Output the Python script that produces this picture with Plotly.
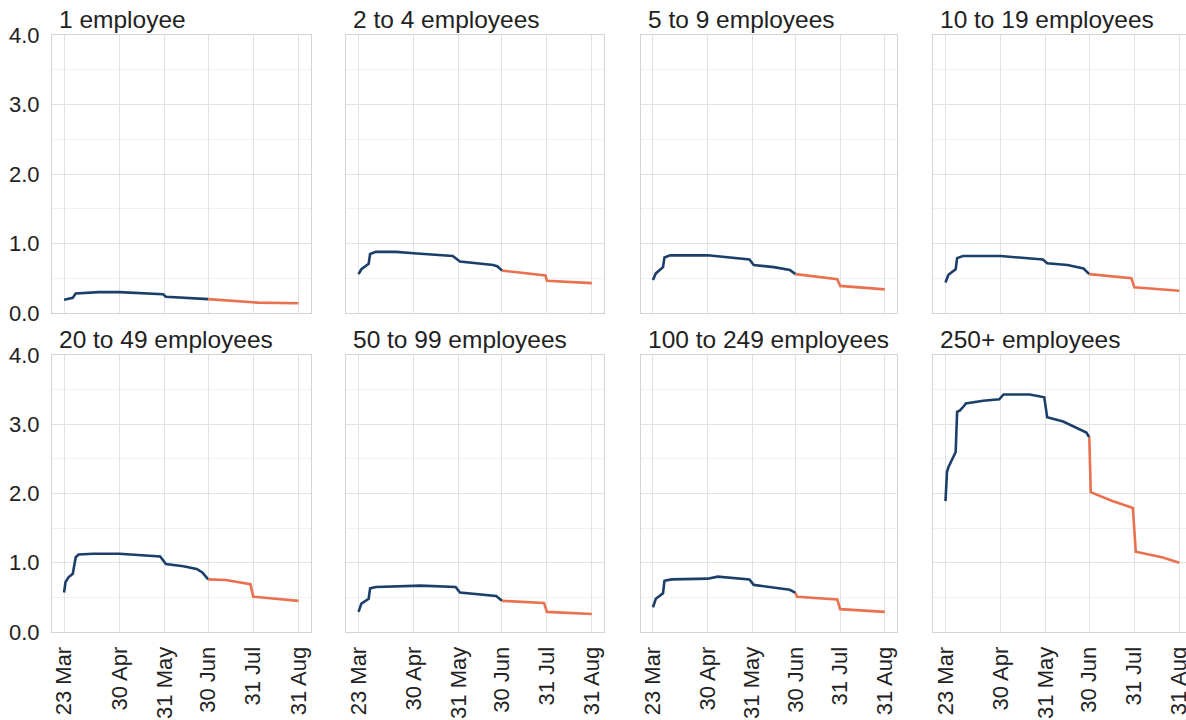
import plotly.graph_objects as go

# ---------------- data ----------------
panel_titles = ["1 employee", "2 to 4 employees", "5 to 9 employees", "10 to 19 employees",
                "20 to 49 employees", "50 to 99 employees", "100 to 249 employees", "250+ employees"]

tick_dates = ["2020-03-23", "2020-04-30", "2020-05-31", "2020-06-30", "2020-07-31", "2020-08-31"]
tick_labels = ["23 Mar", "30 Apr", "31 May", "30 Jun", "31 Jul", "31 Aug"]
y_ticks = [0, 1, 2, 3, 4]

# 1 employee
emp1_blue_dates = ["2020-03-23", "2020-03-29", "2020-03-31", "2020-04-16", "2020-04-30", "2020-05-30", "2020-06-01", "2020-06-30"]
emp1_blue_vals = [0.19, 0.22, 0.28, 0.30, 0.30, 0.27, 0.235, 0.20]
emp1_orange_dates = ["2020-06-30", "2020-07-19", "2020-07-30", "2020-08-03", "2020-08-31"]
emp1_orange_vals = [0.20, 0.175, 0.165, 0.15, 0.14]

# 2 to 4 employees
emp2_blue_dates = ["2020-03-23", "2020-03-25", "2020-03-30", "2020-03-31", "2020-04-04", "2020-04-18", "2020-04-30", "2020-05-27", "2020-06-01", "2020-06-24", "2020-06-27", "2020-06-30"]
emp2_blue_vals = [0.56, 0.63, 0.71, 0.85, 0.88, 0.88, 0.86, 0.82, 0.74, 0.69, 0.67, 0.61]
emp2_orange_dates = ["2020-06-30", "2020-07-17", "2020-07-30", "2020-07-31", "2020-08-17", "2020-08-31"]
emp2_orange_vals = [0.61, 0.57, 0.54, 0.465, 0.45, 0.43]

# 5 to 9 employees
emp3_blue_dates = ["2020-03-23", "2020-03-25", "2020-03-30", "2020-03-31", "2020-04-04", "2020-04-30", "2020-05-29", "2020-06-01", "2020-06-15", "2020-06-26", "2020-06-30"]
emp3_blue_vals = [0.475, 0.57, 0.66, 0.80, 0.83, 0.83, 0.77, 0.69, 0.66, 0.62, 0.56]
emp3_orange_dates = ["2020-06-30", "2020-07-29", "2020-07-31", "2020-08-31"]
emp3_orange_vals = [0.56, 0.485, 0.39, 0.34]

# 10 to 19 employees
emp4_blue_dates = ["2020-03-23", "2020-03-25", "2020-03-30", "2020-03-31", "2020-04-04", "2020-04-30", "2020-05-29", "2020-06-01", "2020-06-15", "2020-06-26", "2020-06-30"]
emp4_blue_vals = [0.44, 0.55, 0.63, 0.79, 0.82, 0.82, 0.77, 0.715, 0.69, 0.64, 0.56]
emp4_orange_dates = ["2020-06-30", "2020-07-29", "2020-07-31", "2020-08-31"]
emp4_orange_vals = [0.56, 0.50, 0.37, 0.32]

# 20 to 49 employees
emp5_blue_dates = ["2020-03-23", "2020-03-24", "2020-03-26", "2020-03-29", "2020-03-31", "2020-04-02", "2020-04-12", "2020-04-30", "2020-05-28", "2020-06-01", "2020-06-13", "2020-06-22", "2020-06-26", "2020-06-30"]
emp5_blue_vals = [0.57, 0.72, 0.79, 0.84, 1.08, 1.12, 1.13, 1.13, 1.09, 0.98, 0.95, 0.91, 0.86, 0.76]
emp5_orange_dates = ["2020-06-30", "2020-07-12", "2020-07-29", "2020-07-31", "2020-08-31"]
emp5_orange_vals = [0.76, 0.75, 0.69, 0.51, 0.45]

# 50 to 99 employees
emp6_blue_dates = ["2020-03-23", "2020-03-25", "2020-03-30", "2020-03-31", "2020-04-04", "2020-05-05", "2020-05-29", "2020-06-01", "2020-06-26", "2020-06-30"]
emp6_blue_vals = [0.29, 0.41, 0.48, 0.63, 0.65, 0.67, 0.65, 0.57, 0.52, 0.45]
emp6_orange_dates = ["2020-06-30", "2020-07-29", "2020-07-31", "2020-08-31"]
emp6_orange_vals = [0.45, 0.42, 0.29, 0.26]

# 100 to 249 employees
emp7_blue_dates = ["2020-03-23", "2020-03-25", "2020-03-30", "2020-03-31", "2020-04-05", "2020-04-30", "2020-05-07", "2020-05-29", "2020-06-01", "2020-06-26", "2020-06-30"]
emp7_blue_vals = [0.355, 0.48, 0.56, 0.74, 0.76, 0.77, 0.80, 0.76, 0.68, 0.61, 0.565]
emp7_orange_dates = ["2020-06-30", "2020-07-01", "2020-07-29", "2020-07-31", "2020-08-31"]
emp7_orange_vals = [0.565, 0.51, 0.47, 0.33, 0.29]

# 250+ employees
emp8_blue_dates = ["2020-03-23", "2020-03-24", "2020-03-25", "2020-03-27", "2020-03-30", "2020-03-31", "2020-04-02", "2020-04-05", "2020-04-06", "2020-04-18", "2020-04-29", "2020-05-02", "2020-05-20", "2020-05-30", "2020-06-01", "2020-06-12", "2020-06-21", "2020-06-28", "2020-06-30"]
emp8_blue_vals = [1.89, 2.31, 2.38, 2.47, 2.60, 3.18, 3.20, 3.27, 3.30, 3.34, 3.36, 3.43, 3.43, 3.39, 3.10, 3.04, 2.95, 2.88, 2.81]
emp8_orange_dates = ["2020-06-30", "2020-07-01", "2020-07-15", "2020-07-30", "2020-08-01", "2020-08-19", "2020-08-31"]
emp8_orange_vals = [2.81, 2.02, 1.90, 1.79, 1.16, 1.08, 1.00]

blue_dates = [emp1_blue_dates, emp2_blue_dates, emp3_blue_dates, emp4_blue_dates,
              emp5_blue_dates, emp6_blue_dates, emp7_blue_dates, emp8_blue_dates]
blue_vals = [emp1_blue_vals, emp2_blue_vals, emp3_blue_vals, emp4_blue_vals,
             emp5_blue_vals, emp6_blue_vals, emp7_blue_vals, emp8_blue_vals]
orange_dates = [emp1_orange_dates, emp2_orange_dates, emp3_orange_dates, emp4_orange_dates,
                emp5_orange_dates, emp6_orange_dates, emp7_orange_dates, emp8_orange_dates]
orange_vals = [emp1_orange_vals, emp2_orange_vals, emp3_orange_vals, emp4_orange_vals,
               emp5_orange_vals, emp6_orange_vals, emp7_orange_vals, emp8_orange_vals]

# ---------------- styling ----------------
BLUE = "#1c3f6a"
ORANGE = "#e9714f"
FONT = "Liberation Sans, Arial, sans-serif"
TEXT = "#222222"

col_domains = [[0.0, 0.2281], [0.2597, 0.4868], [0.5194, 0.7451], [0.7773, 1.0]]
row_domains = [[0.5343, 1.0], [0.0, 0.464]]
x_start = "2020-03-14 17:00"
x_end_normal = "2020-09-08 10:00"
x_end_last = "2020-09-04 14:00"

fig = go.Figure()
layout = {}
annotations = []
for i in range(8):
    r, c = divmod(i, 4)
    n = i + 1
    xa = "x" if n == 1 else f"x{n}"
    ya = "y" if n == 1 else f"y{n}"
    fig.add_trace(go.Scatter(x=blue_dates[i], y=blue_vals[i], mode="lines",
                             line=dict(color=BLUE, width=2.6), xaxis=xa, yaxis=ya,
                             showlegend=False, hoverinfo="x+y"))
    fig.add_trace(go.Scatter(x=orange_dates[i], y=orange_vals[i], mode="lines",
                             line=dict(color=ORANGE, width=2.6), xaxis=xa, yaxis=ya,
                             showlegend=False, hoverinfo="x+y"))
    xkey = "xaxis" if n == 1 else f"xaxis{n}"
    ykey = "yaxis" if n == 1 else f"yaxis{n}"
    layout[xkey] = dict(
        domain=col_domains[c], anchor=ya, type="date", automargin=False,
        range=[x_start, x_end_last if c == 3 else x_end_normal],
        tickmode="array", tickvals=tick_dates, ticktext=tick_labels,
        showticklabels=(r == 1), tickangle=-90, ticklabeloverflow="allow",
        tickfont=dict(family=FONT, size=22, color=TEXT),
        showgrid=True, gridcolor="#e2e2e2", gridwidth=1,
        showline=True, mirror=True, linecolor="#d4d4d4", linewidth=1,
        zeroline=False, ticks="", ticklabelstandoff=5,
    )
    layout[ykey] = dict(
        domain=row_domains[r], anchor=xa, range=[0, 4], automargin=False,
        tickmode="array", tickvals=y_ticks, tickformat=".1f",
        showticklabels=(c == 0),
        tickfont=dict(family=FONT, size=22, color=TEXT),
        showgrid=True, gridcolor="#e2e2e2", gridwidth=1,
        minor=dict(dtick=0.5, tick0=0, showgrid=True, gridcolor="#f1f1f1", gridwidth=1),
        showline=True, mirror=True, linecolor="#d4d4d4", linewidth=1,
        zeroline=False, ticks="", ticklabelstandoff=7,
    )
    annotations.append(dict(
        text=panel_titles[i], xref=f"{xa} domain", yref=f"{ya} domain",
        x=0, y=1, xanchor="left", yanchor="bottom", xshift=5, yshift=0,
        showarrow=False, font=dict(family=FONT, size=24.5, color=TEXT),
    ))

fig.update_layout(
    width=1186, height=720,
    margin=dict(l=52, r=0, t=35, b=88, autoexpand=False),
    paper_bgcolor="white", plot_bgcolor="white",
    font=dict(family=FONT, color=TEXT),
    annotations=annotations,
    **layout,
)

fig.write_html("out.html")
